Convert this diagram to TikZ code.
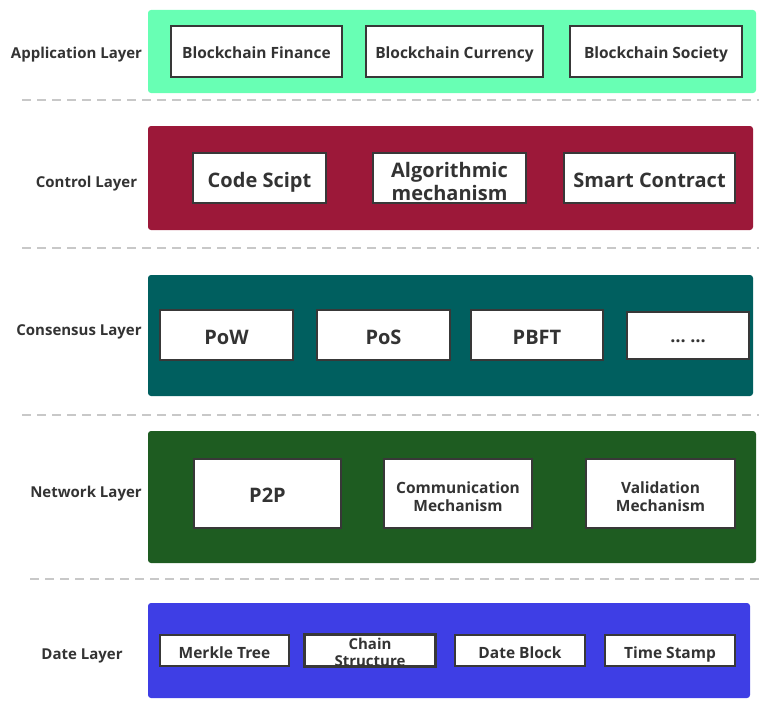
\documentclass[tikz,border=0pt]{standalone}
\usepackage{fontspec}
\setmainfont{Open Sans}
\definecolor{appfill}{HTML}{68FFB4}
\definecolor{ctrlfill}{HTML}{9C1839}
\definecolor{consfill}{HTML}{005F5F}
\definecolor{netfill}{HTML}{1E5C21}
\definecolor{datefill}{HTML}{3E3EE5}
\definecolor{ink}{HTML}{333333}
\definecolor{cellline}{HTML}{383838}
\definecolor{sepgray}{HTML}{C8C8C8}
\begin{document}
\begin{tikzpicture}[x=1pt,y=-1pt,
  band/.style={draw=none, rounded corners=3pt, inner sep=0pt, outer sep=0pt},
  cell/.style={draw=cellline, line width=1.6pt, fill=white, inner sep=0pt,
    text=ink, font=\bfseries\fontsize{15.5}{18}\selectfont,
    text height=15pt, text depth=0pt},
  bigcell/.style={cell, font=\bfseries\fontsize{20}{24}\selectfont,
    text height=18.5pt, text depth=0pt},
  emptycell/.style={draw=cellline, line width=1.6pt, fill=white, inner sep=0pt},
  cellline1/.style={anchor=base, text=ink, inner sep=0pt},
  midtext/.style={cellline1, font=\bfseries\fontsize{15.5}{18}\selectfont},
  layerlabel/.style={anchor=base, text=ink, inner sep=0pt,
    font=\bfseries\fontsize{15}{18}\selectfont},
  sep/.style={draw=sepgray, line width=1.5pt, dash pattern=on 9pt off 6pt},
]
\useasboundingbox (0,0) rectangle (759,717);

% ---------- layer bands ----------
\node[band, fill=appfill,  minimum width=608pt, minimum height=83pt]  (app)  at (452,51.5) {};
\node[band, fill=ctrlfill, minimum width=605pt, minimum height=104pt] (ctrl) at (450.5,178) {};
\node[band, fill=consfill, minimum width=605pt, minimum height=121pt] (cons) at (450.5,335.5) {};
\node[band, fill=netfill,  minimum width=608pt, minimum height=132pt] (net)  at (452,497) {};
\node[band, fill=datefill, minimum width=602pt, minimum height=95pt]  (data) at (449,650.5) {};

% ---------- layer names ----------
\node[layerlabel] (lapp)  at (76.5,59)  {Application Layer};
\node[layerlabel] (lctrl) at (86.5,187) {Control Layer};
\node[layerlabel] (lcons) at (79,335)   {Consensus Layer};
\node[layerlabel] (lnet)  at (86,497)   {Network Layer};
\node[layerlabel] (ldata) at (82,659)   {Date Layer};

% ---------- separators ----------
\coordinate (s1a) at (22,100);  \coordinate (s1b) at (759,100);
\coordinate (s2a) at (22,248);  \coordinate (s2b) at (759,248);
\coordinate (s3a) at (22,415);  \coordinate (s3b) at (759,415);
\coordinate (s4a) at (30,579);  \coordinate (s4b) at (759,579);
\draw[sep] (s1a) -- (s1b);
\draw[sep] (s2a) -- (s2b);
\draw[sep] (s3a) -- (s3b);
\draw[sep] (s4a) -- (s4b);

% ---------- application layer ----------
\node[cell, minimum width=171pt, minimum height=51pt] (fin) at (256.5,51.5) {Blockchain Finance};
\node[cell, minimum width=177pt, minimum height=51pt] (cur) at (454.5,51.5) {Blockchain Currency};
\node[cell, minimum width=172pt, minimum height=51pt] (soc) at (656,51.5)   {Blockchain Society};

% ---------- control layer ----------
\node[bigcell, minimum width=133pt, minimum height=50pt] (code) at (259.5,178) {Code Scipt};
\node[emptycell, minimum width=153pt, minimum height=50pt] (algo) at (449.5,178) {};
\node[cellline1, font=\bfseries\fontsize{20}{24}\selectfont] (algoA) at (449.5,177.5) {Algorithmic};
\node[cellline1, font=\bfseries\fontsize{20}{24}\selectfont] (algoB) at (449.5,200.5) {mechanism};
\node[bigcell, minimum width=171pt, minimum height=50pt] (smart) at (649.5,178) {Smart Contract};

% ---------- consensus layer ----------
\node[bigcell, minimum width=133pt, minimum height=50pt] (pow)  at (226.5,335) {PoW};
\node[bigcell, minimum width=133pt, minimum height=50pt] (pos)  at (383.5,335) {PoS};
\node[bigcell, minimum width=132pt, minimum height=50pt] (pbft) at (537,335)   {PBFT};
\node[cell, font=\bfseries\fontsize{18}{20}\selectfont, minimum width=122pt, minimum height=47pt,
      text height=14pt, text depth=0pt] (more) at (688,335.5) {\ldots\ \ldots};

% ---------- network layer ----------
\node[bigcell, minimum width=147pt, minimum height=69pt] (p2p) at (267.5,493.5) {P2P};
\node[emptycell, minimum width=148pt, minimum height=69pt] (comm) at (458,493.5) {};
\node[midtext] (commA) at (458,493) {Communication};
\node[midtext] (commB) at (458,511) {Mechanism};
\node[emptycell, minimum width=149pt, minimum height=69pt] (valid) at (660.5,493.5) {};
\node[midtext] (validA) at (660.5,493) {Validation};
\node[midtext] (validB) at (660.5,511) {Mechanism};

% ---------- data layer ----------
\node[cell, minimum width=129pt, minimum height=31pt] (merkle) at (224.5,650.5) {Merkle Tree};
\node[emptycell, minimum width=130pt, minimum height=31pt] (chain) at (370,650.5) {};
\begin{scope}
  \clip (chain.south west) rectangle (chain.north east);
  \node[cellline1, font=\bfseries\fontsize{15}{18}\selectfont] (chainA) at (370,649) {Chain};
  \node[cellline1, font=\bfseries\fontsize{15}{18}\selectfont] (chainB) at (370,666.5) {Structure};
\end{scope}
\draw[draw=cellline, line width=1.6pt] (chain.south west) rectangle (chain.north east);
\node[cell, minimum width=130pt, minimum height=31pt] (dblock) at (520,650.5) {Date Block};
\node[cell, minimum width=130pt, minimum height=31pt] (tstamp) at (670,650.5) {Time Stamp};
\end{tikzpicture}
\end{document}
